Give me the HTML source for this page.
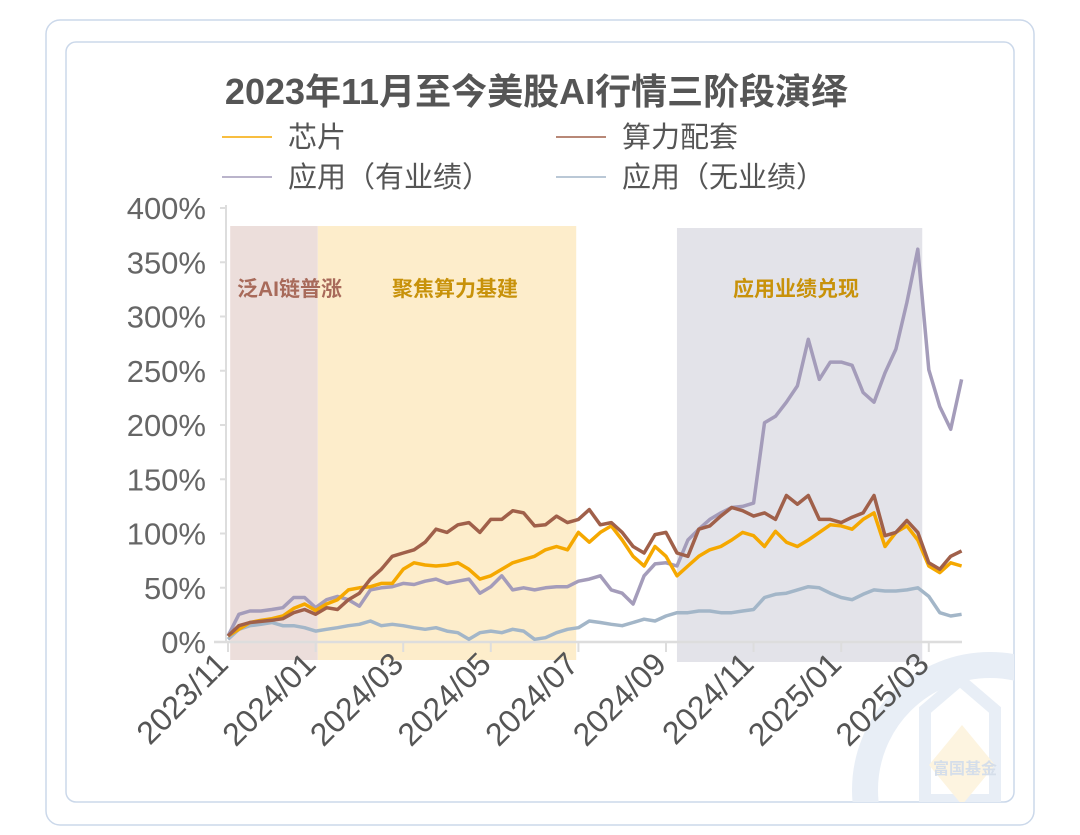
<!DOCTYPE html>
<html><head><meta charset="utf-8"><style>
body{margin:0;background:#fff;overflow:hidden;}
svg{display:block;font-family:"Liberation Sans","Noto Sans CJK SC",sans-serif;}
</style></head><body>
<svg width="1080" height="835" viewBox="0 0 1080 835">
<defs><clipPath id="card"><rect x="66" y="42" width="948" height="760" rx="10"/></clipPath></defs>
<rect x="46" y="20" width="988" height="805" rx="14" fill="#fff" stroke="#cbd8ea" stroke-width="1.5"/>
<rect x="66" y="42" width="948" height="760" rx="10" fill="#fff" stroke="#cbd8ea" stroke-width="1.5"/>
<g clip-path="url(#card)">
<circle cx="990" cy="790" r="125" fill="none" stroke="#e8eef6" stroke-width="26"/>
<path d="M925 710 L960 680 L995 710 L995 800 L925 800 Z" fill="none" stroke="#e8eef6" stroke-width="12"/>
<path d="M962 725 L995 765 L962 805 L929 765 Z" fill="#fdf4e0"/>
<text x="965" y="774" font-size="16" fill="#d5deea" text-anchor="middle" font-weight="bold">富国基金</text>
</g>
<text x="536" y="104" text-anchor="middle" font-size="36" font-weight="bold" fill="#555">2023年11月至今美股AI行情三阶段演绎</text>
<g id="legend"></g>
<g id="bands"></g>
<g id="axes"></g>
<g id="lines"></g>
<g id="labels"></g>
</svg>
<script>
const ticksY=[0,50,100,150,200,250,300,350,400];
const tickLabelsX=["2023/11","2024/01","2024/03","2024/05","2024/07","2024/09","2024/11","2025/01","2025/03"];
const seriesNames=["芯片","算力配套","应用（有业绩）","应用（无业绩）"];
const stepMonths=0.25;
const chip=[5.5,11.7,18,20,21.5,24,31,35,29,35,39,48,50,51,54,54,67,73,71,70,71,73,67,58,61,67,73,76,79,85,88,85,101,92,101,107,94,79,70,88,79,61,70,79,85,88,94,101,98,88,102,92,88,94,101,108,107,104,113,119,88,101,107,94,70,64,73,70];
const compute=[5.5,15,18,19,20,21.5,27,30,25.5,31.6,30,39,45,58,67,79,82,85,92,104,101,108,110,101,113,113,121,119,107,108,116,110,113,122,108,110,101,88,82,99,101,82,79,104,107,116,124,121,116,119,113,135,127,135,113,113,110,115,119,135,98,101,112,101,73,67,79,84];
const appProfit=[5.5,25.5,28.6,28.6,30,31.6,41,41,31.6,39,42,39,33,48,50,51,54,53,56,58,54,56,58,45,51,61,48,50,48,50,51,51,56,58,61,48,45,35,61,72,73,70,94,104,113,119,124,125,128,202,208,221,236,279,242,258,258,255,230,221,248,270,313,362,251,217,196,242];
const appNoProfit=[2.5,11.7,15,16.3,18,15,15,13.2,10,11.7,13.2,15,16.3,19.4,15,16.3,15,13.2,11.7,13.2,10,8.6,2.5,8.6,10,8.6,11.7,10,2.5,4,8.6,11.7,13.2,19.4,18,16.3,15,18,21,19.4,24,27,27,28.6,28.6,27,27,28.6,30,41,44,45,48,51,50,45,41,39,44,48,47,47,48,50,42,27,24,25.5];
const phaseNames=["泛AI链普涨","聚焦算力基建","应用业绩兑现"];
const phaseStart=[0.05,2.05,10.25];
const phaseEnd=[2.05,7.95,15.85];

const NS="http://www.w3.org/2000/svg";
const x=m=>228+m*43.8;
const y=v=>642-v*1.085;
function mk(t,a,p){const e=document.createElementNS(NS,t);for(const k in a)e.setAttribute(k,a[k]);p.appendChild(e);return e;}
const bands=document.getElementById('bands'),axes=document.getElementById('axes'),lines=document.getElementById('lines'),labels=document.getElementById('labels'),legend=document.getElementById('legend');
const bandFill=["#ecdedb","#fdedcb","#e3e3e9"];
const bandText=["#a86a5a","#c8920a","#c8920a"];
const bandTx=[237,392,733];
phaseNames.forEach((n,i)=>{
 const r=mk('rect',{x:x(phaseStart[i]),y:226+(i==2?2:0),width:x(phaseEnd[i])-x(phaseStart[i]),height:434,fill:bandFill[i]},bands);
 
 
 const t=mk('text',{x:bandTx[i],y:296,'font-size':21,'font-weight':'bold',fill:bandText[i]},labels);
 t.textContent=n;
 
 
});
const ya=mk('line',{x1:226,y1:205,x2:226,y2:642,stroke:'#ddd','stroke-width':2},axes);


ticksY.forEach(v=>{
 mk('line',{x1:220,x2:226,y1:y(v),y2:y(v),stroke:'#ddd','stroke-width':2},axes);
 const t=mk('text',{x:206,y:y(v)+11,'text-anchor':'end','font-size':31,fill:'#666'},axes);
 t.textContent=v+'%';
 
 
});
const xa=mk('line',{x1:214,y1:642,x2:962,y2:642,stroke:'#ddd','stroke-width':2.5},axes);


tickLabelsX.forEach((l,i)=>{
 const px=x(i*2);
 mk('line',{x1:px,x2:px,y1:642,y2:652,stroke:'#ddd','stroke-width':2},axes);
 const t=mk('text',{x:px+2,y:666,'text-anchor':'end','font-size':32,fill:'#555',transform:`rotate(-45 ${px+2} 666)`},axes);
 t.textContent=l;
 
 
});
const allSeries=[chip,compute,appProfit,appNoProfit];
const colors=["#f5a800","#a0604a","#a49cba","#a3b6c8"];
const order=[3,2,0,1];
order.forEach(si=>{
 const d=allSeries[si].map((v,i)=>(i?'L':'M')+x(i*stepMonths).toFixed(1)+' '+y(v).toFixed(1)).join(' ');
 const p=mk('path',{d:d,fill:'none',stroke:colors[si],'stroke-width':3.5,'stroke-linejoin':'round'},lines);
 
 
});
const lx=[222,556,222,556],ly=[137,137,177,177];
seriesNames.forEach((n,i)=>{
 const g=mk('g',{},legend);
 
 
 mk('line',{x1:lx[i],x2:lx[i]+50,y1:ly[i],y2:ly[i],stroke:colors[i],'stroke-width':1.5},g);
 const t=mk('text',{x:lx[i]+66,y:ly[i]+10,'font-size':29,fill:'#555'},g);
 t.textContent=n;
});
</script>
</body></html>
